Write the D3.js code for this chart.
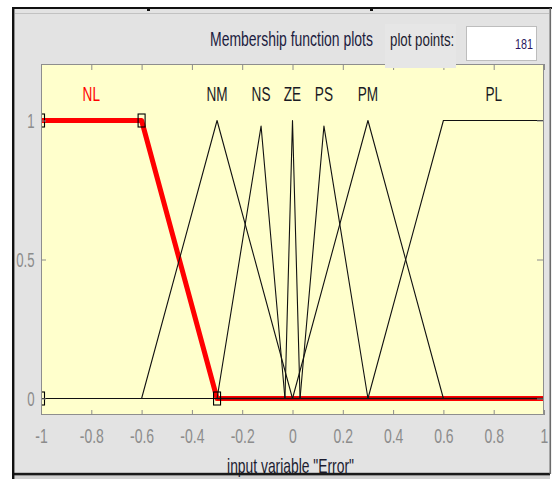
<!DOCTYPE html>
<html>
<head>
<meta charset="utf-8">
<script src="https://cdn.jsdelivr.net/npm/d3@7"></script>
<style>
  html, body { margin: 0; padding: 0; background: #ffffff; }
  svg { display: block; font-family: "Liberation Sans", Arial, sans-serif; }
</style>
</head>
<body>
<script>
// ---------------- data ----------------
const mfNames  = ["NL", "NM", "NS", "ZE", "PS", "PM", "PL"];
const mfTypes  = ["trapmf", "trimf", "trimf", "trimf", "trimf", "trimf", "trapmf"];
const mfParams = [
  [-1, -1, -0.6, -0.3],
  [-0.6, -0.3, 0],
  [-0.3, -0.125, -0.03],
  [-0.03, 0, 0.03],
  [0.03, 0.125, 0.3],
  [0, 0.3, 0.6],
  [0.3, 0.6, 1, 1]
];
const mfPeaks  = [1, 1, 0.98, 1, 0.98, 1, 1];
const selectedMF = 0;

const xTicks      = [-1, -0.8, -0.6, -0.4, -0.2, 0, 0.2, 0.4, 0.6, 0.8, 1];
const xTickLabels = ["-1", "-0.8", "-0.6", "-0.4", "-0.2", "0", "0.2", "0.4", "0.6", "0.8", "1"];
const yTicks      = [0, 0.5, 1];
const yTickLabels = ["0", "0.5", "1"];

const titleText      = "Membership function plots";
const plotPointsText = "plot points:";
const plotPointsVal  = "181";
const xLabelText     = "input variable \"Error\"";

// ---------------- layout ----------------
const W = 556, H = 479;
const PL = 41, PR = 544, PT = 64, PB = 415;

const svg = d3.select("body").append("svg").attr("width", W).attr("height", H);

const x = d3.scaleLinear().domain([-1, 1]).range([PL, PR]);
const y = d3.scaleLinear().domain([0, 1]).range([398.5, 120.5]);

function stext(g, px, py, str, o) {
  return g.append("text")
    .attr("transform", `translate(${px},${py}) scale(${o.sx},1)`)
    .attr("text-anchor", o.anchor || "middle")
    .attr("font-size", o.size)
    .attr("fill", o.fill)
    .text(str);
}

// window background and frame
svg.append("rect").attr("x", 0).attr("y", 0).attr("width", W).attr("height", H).attr("fill", "#ffffff");
svg.append("rect").attr("x", 14).attr("y", 8).attr("width", 536).attr("height", 471).attr("fill", "#e3e3e3");
svg.append("rect").attr("x", 14).attr("y", 476).attr("width", 536).attr("height", 3).attr("fill", "#d2d2d2");
svg.append("line").attr("x1", 15).attr("x2", 549).attr("y1", 13.5).attr("y2", 13.5).attr("stroke", "#c2c2c2").attr("stroke-width", 1);

// plot area
svg.append("rect").attr("x", PL).attr("y", PT).attr("width", PR - PL).attr("height", PB - PT).attr("fill", "#ffffcc");

svg.append("defs").append("clipPath").attr("id", "clip")
  .append("rect").attr("x", PL).attr("y", PT).attr("width", PR - PL).attr("height", PB - PT);

// membership function vertices from parameters
function trapOf(type, p) { return type === "trimf" ? [p[0], p[1], p[1], p[2]] : p; }
function mfValue(t, h, v) {
  const [a, b, c, d] = t;
  if (v < a || v > d) return 0;
  if (v >= b && v <= c) return h;
  if (v < b) return (v - a) / (b - a) * h;
  return (d - v) / (d - c) * h;
}
function mfPoints(i) {
  const t = trapOf(mfTypes[i], mfParams[i]);
  const xs = Array.from(new Set([-1, 1].concat(t).filter(v => v >= -1 && v <= 1))).sort((a, b) => a - b);
  return xs.map(v => [v, mfValue(t, mfPeaks[i], v)]);
}

const line = d3.line().x(d => x(d[0])).y(d => y(d[1]));
const plotG = svg.append("g").attr("clip-path", "url(#clip)");

// selected MF (red, thick) first
plotG.append("path").datum(mfPoints(selectedMF))
  .attr("d", line).attr("fill", "none").attr("stroke", "#ff0000")
  .attr("stroke-width", 5).attr("stroke-linejoin", "round");

// other MFs
mfNames.forEach((n, i) => {
  if (i === selectedMF) return;
  plotG.append("path").datum(mfPoints(i))
    .attr("d", line).attr("fill", "none").attr("stroke", "#111111")
    .attr("stroke-width", 1.1).attr("stroke-linejoin", "round");
});
// thin dark core along selected MF's zero segment
plotG.append("path").datum(mfPoints(selectedMF).filter(d => d[1] === 0))
  .attr("d", line).attr("fill", "none").attr("stroke", "#111111").attr("stroke-width", 1.6);

// vertex squares of selected MF
const selT = trapOf(mfTypes[selectedMF], mfParams[selectedMF]);
const sq = [[selT[0], 0], [selT[1], mfPeaks[selectedMF]], [selT[2], mfPeaks[selectedMF]], [selT[3], 0]];
plotG.selectAll("rect.sq").data(sq).join("rect").attr("class", "sq")
  .attr("x", d => x(d[0]) - 3.5).attr("y", d => y(d[1]) - 6.5)
  .attr("width", 7).attr("height", 13)
  .attr("fill", "none").attr("stroke", "#000").attr("stroke-width", 1.1);

// plot box
svg.append("rect").attr("x", PL + 0.5).attr("y", PT + 0.5).attr("width", PR - PL - 1).attr("height", PB - PT - 1)
  .attr("fill", "none").attr("stroke", "#8e8e8e").attr("stroke-width", 1);

// axes
const tickCol = "#8c8c8c";
const axB = svg.append("g").attr("transform", `translate(0,${PB})`)
  .call(d3.axisBottom(x).tickValues(xTicks).tickSizeInner(-5).tickSizeOuter(0).tickFormat((d, i) => xTickLabels[i]));
const axT = svg.append("g").attr("transform", `translate(0,${PT})`)
  .call(d3.axisTop(x).tickValues(xTicks).tickSizeInner(-6).tickSizeOuter(0).tickFormat(""));
const axL = svg.append("g").attr("transform", `translate(${PL},0)`)
  .call(d3.axisLeft(y).tickValues(yTicks).tickSizeInner(-5).tickSizeOuter(0).tickFormat((d, i) => yTickLabels[i]));
const axR = svg.append("g").attr("transform", `translate(${PR},0)`)
  .call(d3.axisRight(y).tickValues(yTicks).tickSizeInner(-7).tickSizeOuter(0).tickFormat(""));
[axB, axT, axL, axR].forEach(a => {
  a.select(".domain").remove();
  a.selectAll(".tick line").attr("stroke", tickCol);
});
axB.selectAll(".tick text")
  .attr("y", 0).attr("dy", null)
  .attr("transform", "translate(0,28) scale(0.70,1)")
  .attr("font-size", 20).attr("fill", tickCol).attr("font-family", null);
axL.selectAll(".tick text")
  .attr("x", 0).attr("dy", null)
  .attr("transform", "translate(-6.5,7) scale(0.66,1)")
  .attr("text-anchor", "end")
  .attr("font-size", 20).attr("fill", tickCol).attr("font-family", null);

// MF labels
mfNames.forEach((n, i) => {
  const t = trapOf(mfTypes[i], mfParams[i]);
  const cx = (t[1] + t[2]) / 2;
  stext(svg, x(cx), y(1) - 20, n, { size: 20, sx: 0.68, fill: i === selectedMF ? "#ff0000" : "#1a1a24" });
});

// header controls
svg.append("rect").attr("x", 385).attr("y", 24).attr("width", 71).attr("height", 44).attr("fill", "#e6e6e6");
svg.append("rect").attr("x", 466.5).attr("y", 26.5).attr("width", 70).attr("height", 34)
  .attr("fill", "#ffffff").attr("stroke", "#bdbdbd").attr("stroke-width", 1);
stext(svg, 210, 46, titleText, { size: 21, sx: 0.665, anchor: "start", fill: "#1c1c40" });
stext(svg, 390, 45.5, plotPointsText, { size: 17.5, sx: 0.76, anchor: "start", fill: "#1c1c30" });
stext(svg, 533, 49, plotPointsVal, { size: 14, sx: 0.77, anchor: "end", fill: "#2a1660" });

// x label
stext(svg, 290.5, 473, xLabelText, { size: 21, sx: 0.66, fill: "#1c1c30" });

// outer frame lines
svg.append("rect").attr("x", 13).attr("y", 472.8).attr("width", 537).attr("height", 2.6).attr("fill", "#1a1a1a");
svg.append("rect").attr("x", 12).attr("y", 7).attr("width", 2.4).attr("height", 472).attr("fill", "#111111");
svg.append("rect").attr("x", 12).attr("y", 7).attr("width", 540).attr("height", 2).attr("fill", "#111111");
svg.append("rect").attr("x", 549.5).attr("y", 8).attr("width", 1.6).attr("height", 466).attr("fill", "#6a6a6a");
svg.append("rect").attr("x", 147).attr("y", 9).attr("width", 3).attr("height", 2).attr("fill", "#111");
svg.append("rect").attr("x", 370).attr("y", 9).attr("width", 3).attr("height", 2).attr("fill", "#111");
</script>
</body>
</html>
